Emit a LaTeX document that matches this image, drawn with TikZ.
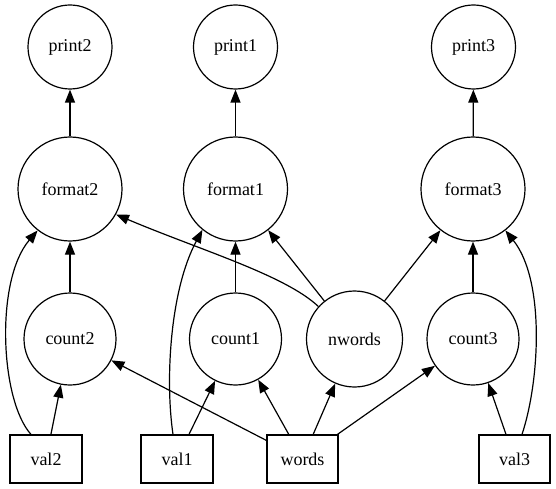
\documentclass[tikz,border=0pt]{standalone}
\usepackage{fontspec}
\setmainfont{Liberation Serif}
\usetikzlibrary{arrows.meta}
\begin{document}
\begin{tikzpicture}[x=1pt,y=-1pt,
  every node/.style={font=\fontsize{18}{20}\selectfont},
  circ/.style={draw, circle, line width=1.2pt, inner sep=0pt},
  pcirc/.style={circ, minimum size=84pt},
  fcirc/.style={circ, minimum size=104pt},
  ccirc/.style={circ, minimum size=92pt},
  nbox/.style={draw, rectangle, line width=1.2pt, minimum width=72pt, minimum height=48pt, inner sep=0pt},
  conn/.style={draw, line width=1.2pt, -{Triangle[length=13pt,width=10pt]}}]
\fill[white] (0,0) rectangle (556,489);
\useasboundingbox (0,0) rectangle (556,489);
\node[pcirc] (print2) at (70,47) {print2};
\node[pcirc] (print1) at (235.5,47) {print1};
\node[pcirc] (print3) at (473.5,47) {print3};
\node[fcirc] (format2) at (70,189) {format2};
\node[fcirc] (format1) at (235.5,189) {format1};
\node[fcirc] (format3) at (473,189) {format3};
\node[ccirc] (count2) at (70,339) {count2};
\node[ccirc] (count1) at (235.5,339) {count1};
\node[circ, minimum size=96pt] (nwords) at (354.5,339) {nwords};
\node[ccirc] (count3) at (473,339) {count3};
\node[nbox] (val2) at (46,459) {val2};
\node[nbox] (val1) at (177,459) {val1};
\node[nbox, minimum width=71pt] (words) at (302.5,459) {words};
\node[nbox, minimum width=71pt] (val3) at (514.5,459) {val3};
\draw[conn] (format2) -- (print2);
\draw[conn] (format1) -- (print1);
\draw[conn] (format3) -- (print3);
\draw[conn] (count2) -- (format2);
\draw[conn] (count1) -- (format1);
\draw[conn] (count3) -- (format3);
\draw[conn] (val2) -- (count2);
\draw[conn] (val1) -- (count1);
\draw[conn] (val3) -- (count3);
\draw[conn] (words) -- (count2);
\draw[conn] (words) -- (count1);
\draw[conn] (words) -- (nwords);
\draw[conn] (words) -- (count3);
\draw[conn] (nwords) -- (format1);
\draw[conn] (nwords) -- (format3);
\draw[conn] ([xshift=-15pt]val2.north) .. controls (0,400) and (-5,280) .. (format2.232);
\draw[conn] ([xshift=-4pt]val1.north) .. controls (165,380) and (170,290) .. (format1.231);
\draw[conn] ([xshift=7.5pt]val3.north) .. controls (540,380) and (545,280) .. (format3.308);
\draw[conn] (nwords.138) .. controls (285,275) and (200,250) .. (format2.331);
\end{tikzpicture}
\end{document}
